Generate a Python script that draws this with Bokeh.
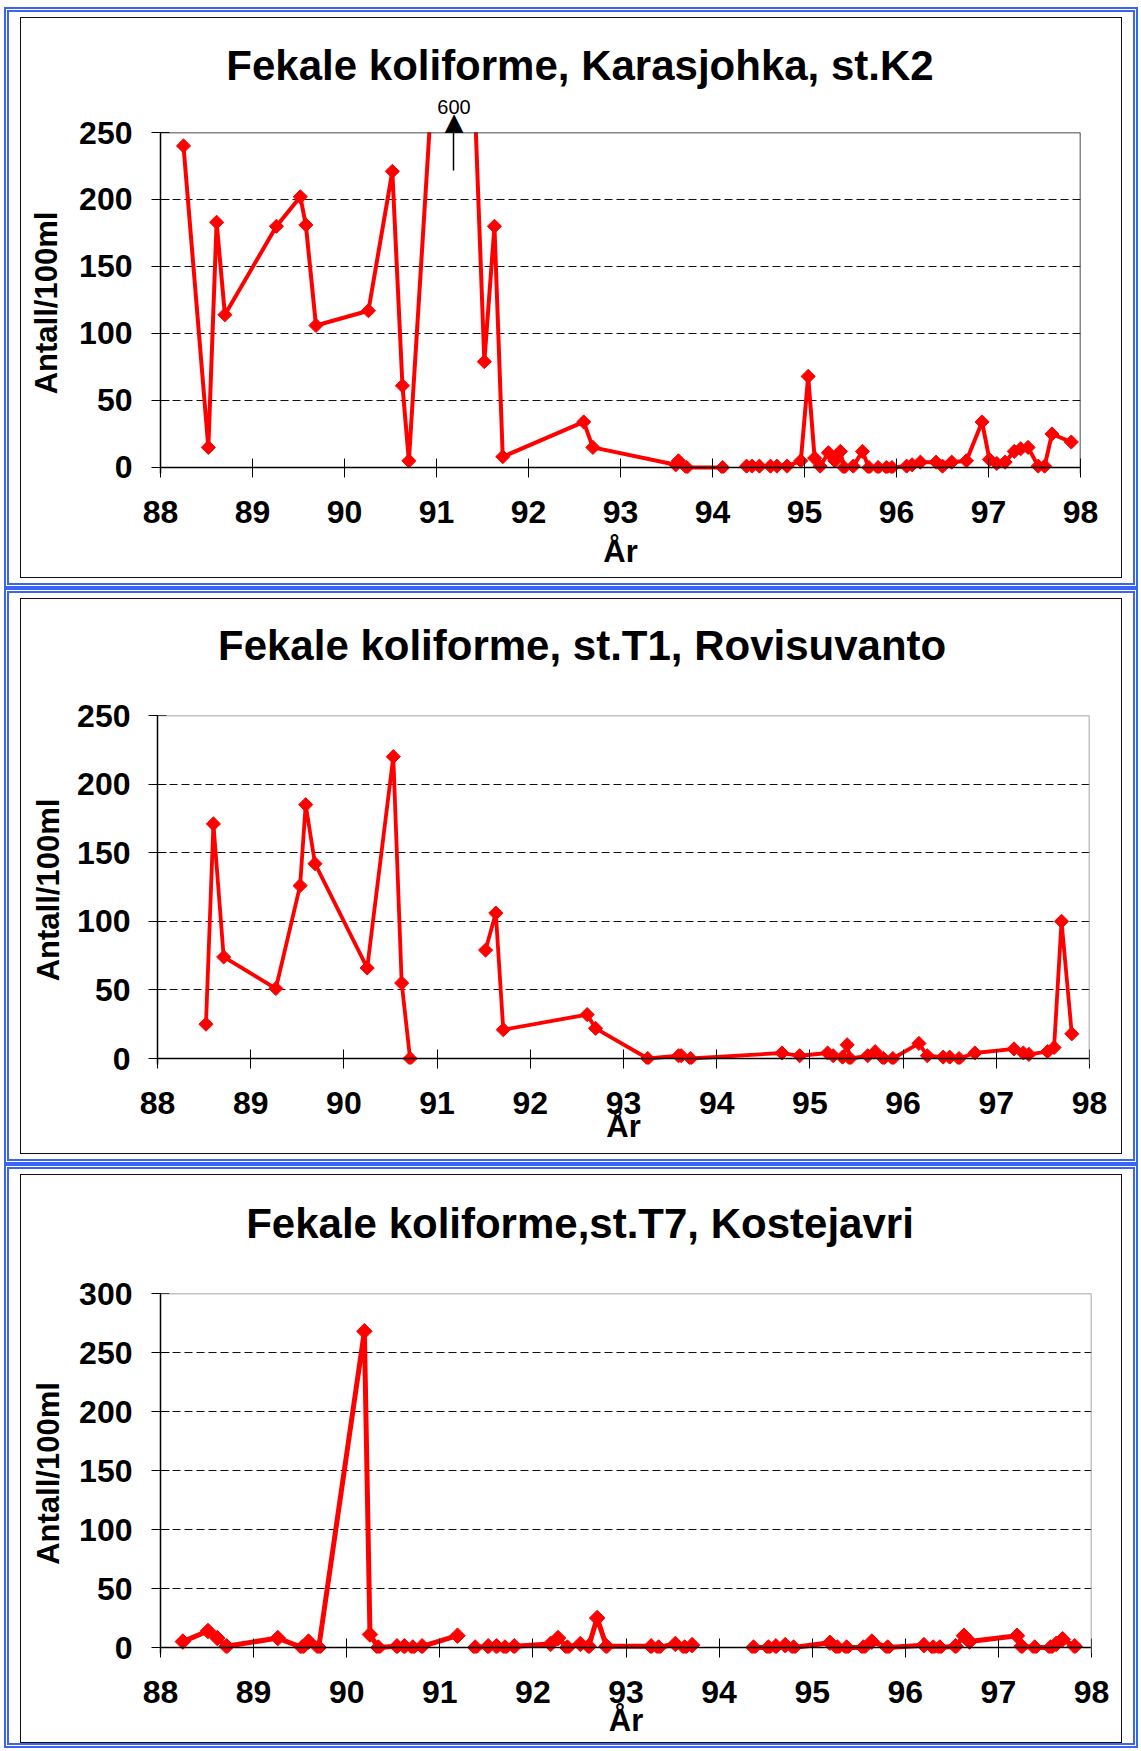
import math
import numpy as np
from bokeh.plotting import figure
from bokeh.models import (ColumnDataSource, Range1d, FixedTicker, LinearAxis, Span, Column)
from bokeh.embed import file_html
from bokeh.resources import INLINE

# ---------------- data ----------------
YEAR_TICKS = [88, 89, 90, 91, 92, 93, 94, 95, 96, 97, 98]
Y_TICKS_250 = [0, 50, 100, 150, 200, 250]
Y_TICKS_300 = [0, 50, 100, 150, 200, 250, 300]
Y_LABEL = "Antall/100ml"
X_LABEL = "År"

K2_TITLE = "Fekale koliforme, Karasjohka, st.K2"
K2_YEAR = [88.25, 88.52, 88.61, 88.70, 89.26, 89.52, 89.58, 89.69, 90.26, 90.52,
           90.63, 90.70, 91.24, 91.52, 91.63, 91.72, 92.60, 92.70, 93.60, 93.63,
           93.72, 94.11, None,
           94.37, 94.43, 94.51, 94.63, 94.70, 94.81,
           94.96, 95.04, 95.11, 95.17, 95.26, 95.33, 95.39, 95.43, 95.53, 95.63,
           95.70, 95.80, 95.89, 95.95,
           96.11, 96.17, 96.26, 96.43, 96.50, 96.60, 96.76, 96.93,
           97.01, 97.09, 97.18, 97.28, 97.35, 97.43, 97.54, 97.61, 97.69, 97.90]
K2_VALUE = [240, 15, 183, 114, 180, 202, 181, 106, 117, 221,
            61, 5, 600, 79, 180, 8, 34, 15, 2, 5,
            0, 0, None,
            1, 1, 1, 1, 1, 1,
            5, 68, 7, 1, 11, 5, 12, 0, 1, 12,
            0, 0, 0, 0,
            1, 2, 4, 4, 1, 4, 5, 34,
            6, 3, 4, 12, 14, 15, 1, 1, 25, 19]
K2_OFFSCALE_TEXT = "600"
K2_ARROW_YEAR = 91.19

T1_TITLE = "Fekale koliforme, st.T1, Rovisuvanto"
T1_YEAR = [88.52, 88.60, 88.71, 89.27, 89.53, 89.59, 89.69, 90.25, 90.53, 90.62,
           90.71, None,
           91.52, 91.63, 91.71, 92.61, 92.70, 93.26, 93.59, 93.62, 93.72,
           94.70, 94.89, 95.19, 95.25, 95.35, 95.40, 95.43, 95.62, 95.70, 95.79,
           95.89, 96.17, 96.26, 96.43, 96.50, 96.60, 96.77,
           97.19, 97.29, 97.35, 97.55, 97.62, 97.70, 97.81]
T1_VALUE = [25, 171, 74, 51, 126, 185, 142, 66, 220, 55,
            0, None,
            79, 106, 21, 32, 22, 0, 2, 2, 0,
            4, 2, 4, 2, 1, 10, 0, 2, 5, 0,
            0, 11, 2, 1, 1, 0, 4,
            7, 4, 3, 5, 8, 100, 18]

T7_TITLE = "Fekale koliforme,st.T7, Kostejavri"
T7_YEAR = [88.24, 88.51, 88.61, 88.71, 89.26, 89.52, 89.59, 89.70, 90.19, 90.25,
           90.34, 90.54, 90.62, 90.71, 90.81, 91.19, None,
           91.38, 91.52, 91.61, 91.70, 91.80, 92.19, 92.27, 92.37, 92.51, 92.60,
           92.69, 92.79, 93.27, 93.35, 93.53, 93.63, 93.71, None,
           94.37, 94.53, 94.61, 94.71, 94.80, 95.19, 95.27, 95.37, 95.55, 95.64,
           95.81, 96.20, 96.30, 96.37, 96.54, 96.63, 96.69,
           97.20, 97.25, 97.39, 97.56, 97.62, 97.69, 97.82]
T7_VALUE = [5, 14, 8, 1, 8, 0, 5, 0, 268, 11,
            0, 1, 1, 0, 1, 10, None,
            0, 1, 1, 0, 1, 3, 8, 0, 3, 1,
            25, 1, 1, 0, 3, 0, 2, None,
            0, 0, 1, 2, 0, 4, 0, 0, 0, 5,
            0, 2, 0, 0, 1, 10, 5,
            10, 1, 0, 0, 3, 7, 1]

# ---------------- styling / layout ----------------
FONT = "Liberation Sans"
RED = "#FF0000"
W = 1100


def arr(v):
    return np.array([np.nan if a is None else a for a in v], dtype=float)


def label_axis(x, text, size, standoff, bold=False, tick_in=0, tick_out=0,
               tick_color=None):
    """An 'above' axis used only to place one text label (and optional tick)."""
    return LinearAxis(ticker=FixedTicker(ticks=[x]),
                      major_label_overrides={x: text},
                      axis_line_color=None, major_tick_line_color=tick_color,
                      major_tick_line_width=1.5, major_tick_in=tick_in,
                      major_tick_out=tick_out, minor_tick_line_color=None,
                      major_label_standoff=standoff, major_label_text_font=FONT,
                      major_label_text_font_size=size,
                      major_label_text_font_style="bold" if bold else "normal",
                      major_label_text_color="black")


def make_panel(title, years, values, y_ticks, cfg):
    y_end = y_ticks[-1]
    p = figure(width=W, height=cfg["h"], output_backend="svg", toolbar_location=None,
               x_range=Range1d(YEAR_TICKS[0], YEAR_TICKS[-1]),
               y_range=Range1d(cfg["y_start"], y_end),
               min_border_left=cfg["left"], min_border_right=cfg["right"],
               min_border_top=cfg["top"], min_border_bottom=cfg["bottom"])
    try:
        p.title = None
    except Exception:
        p.title.visible = False
    p.outline_line_color = None
    p.background_fill_color = "white"
    p.border_fill_color = "white"

    p.xgrid.grid_line_color = None
    p.ygrid.ticker = FixedTicker(ticks=y_ticks[1:])
    p.ygrid.grid_line_color = "#111111"
    p.ygrid.grid_line_dash = "8 4"
    p.ygrid.grid_line_width = 1

    xa = p.xaxis[0]
    ya = p.yaxis[0]
    xa.ticker = FixedTicker(ticks=YEAR_TICKS)
    ya.ticker = FixedTicker(ticks=y_ticks)
    xa.axis_label = X_LABEL
    ya.axis_label = Y_LABEL
    for ax in (xa, ya):
        ax.axis_line_color = "black"
        ax.axis_line_width = 1.5
        ax.major_tick_line_color = "black"
        ax.major_tick_line_width = 1
        ax.minor_tick_line_color = None
        ax.major_label_text_font = FONT
        ax.major_label_text_font_style = "bold"
        ax.major_label_text_font_size = "32px"
        ax.major_label_text_color = "black"
        ax.axis_label_text_font = FONT
        ax.axis_label_text_font_style = "bold"
        ax.axis_label_text_font_size = "31px"
        ax.axis_label_text_color = "black"
    # x axis sits 6px below the zero line; the visible axis line is a span at 0
    xa.axis_line_color = None
    xa.major_tick_in = 15
    xa.major_tick_out = 4
    xa.major_label_standoff = 23
    xa.axis_label_standoff = cfg["xl_stand"]
    ya.major_tick_in = 9
    ya.major_tick_out = 9
    ya.major_label_standoff = cfg["yt_stand"]
    ya.axis_label_standoff = cfg["yl_stand"]

    p.add_layout(Span(location=0, dimension="width", line_color="black", line_width=1.5))
    p.add_layout(Span(location=y_end, dimension="width",
                      line_color=cfg["frame"], line_width=1.5))
    p.add_layout(Span(location=YEAR_TICKS[-1], dimension="height",
                      line_color=cfg["frame"], line_width=1.5))

    src = ColumnDataSource(dict(year=arr(years), value=arr(values)))
    p.line("year", "value", source=src, line_color=RED, line_width=cfg["lw"],
           line_join="round")
    p.scatter("year", "value", source=src, marker="square", angle=math.pi / 4,
              size=cfg["ms"], fill_color=RED, line_color=RED)

    # extra 'above' items (nearest the plot first), then the chart title
    for item in cfg.get("extra_above", []):
        p.add_layout(item, "above")
    p.add_layout(label_axis(cfg["t_x"], title, "42px", cfg["t_stand"], bold=True),
                 "above")
    return p


# off-scale marker for the 600 value (panel 1): arrow shaft + head, then the value
head_axis = label_axis(K2_ARROW_YEAR, "\u25B2", "32px", -10, tick_in=38, tick_out=3,
                       tick_color="black")
text_axis = label_axis(K2_ARROW_YEAR, K2_OFFSCALE_TEXT, "20px", -13)

cfg1 = dict(h=559, left=139, right=41, top=114, bottom=104, y_start=-4.478,
            frame="#111111", lw=4, ms=10, t_x=92.56, t_stand=8,
            extra_above=[head_axis, text_axis],
            xl_stand=8, yt_stand=19, yl_stand=12)
cfg2 = dict(h=554, left=136, right=32, top=116, bottom=89, y_start=-4.373,
            frame="#888888", lw=3.8, ms=10, t_x=92.556, t_stand=47,
            xl_stand=-8, yt_stand=18, yl_stand=8)
cfg3 = dict(h=567, left=139, right=30, top=118, bottom=89, y_start=-5.08,
            frame="#888888", lw=5, ms=11, t_x=92.506, t_stand=47,
            xl_stand=-3, yt_stand=19, yl_stand=10)

p1 = make_panel(K2_TITLE, K2_YEAR, K2_VALUE, Y_TICKS_250, cfg1)
p2 = make_panel(T1_TITLE, T1_YEAR, T1_VALUE, Y_TICKS_250, cfg2)
p3 = make_panel(T7_TITLE, T7_YEAR, T7_VALUE, Y_TICKS_300, cfg3)


def framed(p, pad="5px 11px"):
    inner = Column(children=[p], styles={"border": "1px solid #111111"})
    return Column(children=[inner],
                  styles={"border": "5px double #3c64f4", "padding": pad,
                          "background-color": "white"})


page = Column(children=[framed(p1), framed(p2), framed(p3, "5px 11px 0px 11px")],
              spacing=0, styles={"padding-left": "4px", "padding-top": "7px"})

open("out.html", "w").write(file_html(page, INLINE))
